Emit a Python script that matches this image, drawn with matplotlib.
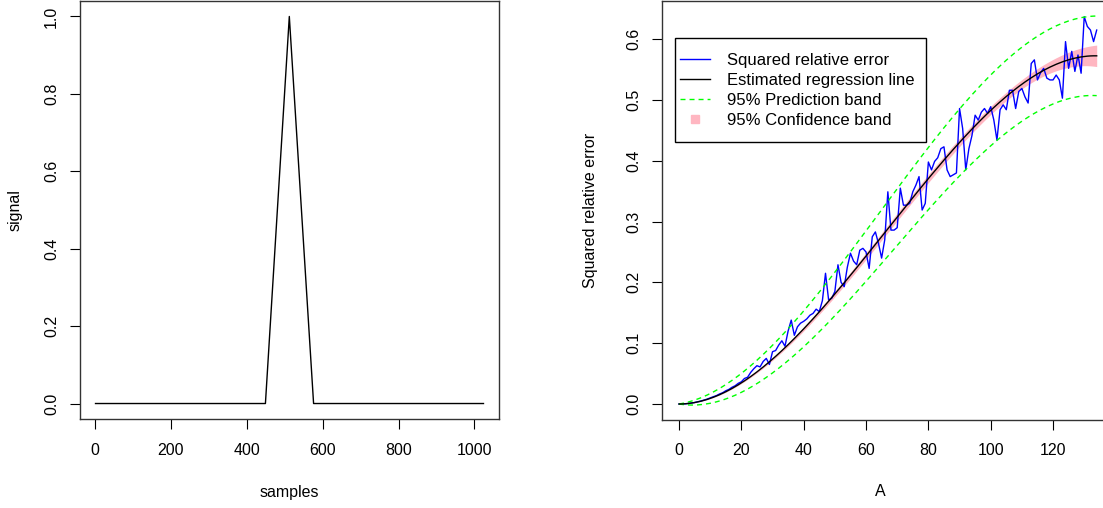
import numpy as np
import matplotlib
matplotlib.use('Agg')
import matplotlib.pyplot as plt
from matplotlib.lines import Line2D
from matplotlib.patches import Rectangle

plt.rcParams['font.family'] = ['Liberation Sans', 'DejaVu Sans']
plt.rcParams['font.size'] = 11.5

# left panel: triangular pulse
samples = [1, 449, 512, 576, 1024]
signal = [0.0, 0.0, 1.0, 0.0, 0.0]

# right panel: squared relative error against A
A = np.arange(0, 135)
sq_err = [
    0.0000, 0.0001, 0.0004, 0.0009, 0.0016, 0.0025, 0.0037, 0.0049, 0.0065, 0.0080,
    0.0100, 0.0120, 0.0138, 0.0165, 0.0185, 0.0218, 0.0240, 0.0275, 0.0300, 0.0340,
    0.0365, 0.0420, 0.0440, 0.0520, 0.0580, 0.0630, 0.0610, 0.0700, 0.0750, 0.0650,
    0.0860, 0.0880, 0.0970, 0.1040, 0.0950, 0.1200, 0.1380, 0.1130, 0.1270, 0.1330,
    0.1360, 0.1400, 0.1460, 0.1490, 0.1560, 0.1520, 0.1700, 0.2150, 0.1710, 0.1740,
    0.1850, 0.2290, 0.2000, 0.1930, 0.2250, 0.2480, 0.2350, 0.2290, 0.2530, 0.2560,
    0.2500, 0.2230, 0.2750, 0.2830, 0.2640, 0.2400, 0.2700, 0.3490, 0.2860, 0.2860,
    0.2900, 0.3550, 0.3270, 0.3270, 0.3300, 0.3490, 0.3600, 0.3740, 0.3190, 0.3300,
    0.3980, 0.3850, 0.3990, 0.4050, 0.4200, 0.4230, 0.3850, 0.3740, 0.3770, 0.3800,
    0.4860, 0.4530, 0.3850, 0.4200, 0.4420, 0.4750, 0.4670, 0.4800, 0.4860, 0.4780,
    0.4890, 0.4670, 0.4340, 0.4840, 0.4920, 0.4840, 0.5160, 0.5160, 0.4860, 0.5140,
    0.5190, 0.5050, 0.4950, 0.5600, 0.5660, 0.5330, 0.5450, 0.5520, 0.5360, 0.5330,
    0.5330, 0.5410, 0.5330, 0.5030, 0.5960, 0.5520, 0.5800, 0.5470, 0.5740, 0.5440,
    0.6370, 0.6210, 0.6150, 0.5960, 0.6150,
]


def r_lim(v):
    # R style axis range: data range plus 4% on each side
    lo, hi = min(v), max(v)
    d = (hi - lo) * 0.04
    return lo - d, hi + d


def fit_bands(x, y):
    # y ~ A^2 + A^3 (through the origin), spread growing like sqrt(fit)
    y = np.asarray(y)
    t = x / x.max()
    X = np.column_stack([t ** 2, t ** 3])
    beta, *_ = np.linalg.lstsq(X, y, rcond=None)
    fit = X @ beta
    g = np.sqrt(np.clip(fit, 0, None))
    k = np.sum(np.abs(y - fit) * g) / np.sum(g ** 2)
    sd = np.sqrt(np.pi / 2) * k * g
    XtX_inv = np.linalg.inv(X.T @ X)
    cov = XtX_inv @ (X.T * sd ** 2) @ X @ XtX_inv
    se = np.sqrt(np.einsum('ij,jk,ik->i', X, cov, X))
    z = 1.96
    pred = z * np.sqrt(sd ** 2 + se ** 2)
    conf = z * se
    return fit, fit - pred, fit + pred, fit - conf, fit + conf


W, H = 1103, 508
fig = plt.figure(figsize=(W / 100, H / 100), dpi=100)
ax1 = fig.add_axes([80 / W, (H - 419) / H, 419 / W, 418 / H])
ax2 = fig.add_axes([662.3 / W, (H - 419.5) / H, 451.1 / W, 418.3 / H])

for ax in (ax1, ax2):
    for s in ax.spines.values():
        s.set_color('#333333')
        s.set_linewidth(1.0)
    ax.tick_params(direction='out', length=7.2, width=0.8, labelsize=11.5)
    ax.tick_params(axis='x', pad=10)
    ax.tick_params(axis='y', pad=8, labelrotation=90)

# left panel
ax1.plot(samples, signal, color='black', lw=1.0)
ax1.set_xlim(*r_lim(samples))
ax1.set_ylim(*r_lim(signal))
ax1.set_xticks([0, 200, 400, 600, 800, 1000])
ax1.set_yticks([0.0, 0.2, 0.4, 0.6, 0.8, 1.0])
ax1.set_yticklabels(['0.0', '0.2', '0.4', '0.6', '0.8', '1.0'])
for lab in ax1.get_yticklabels():
    lab.set_va('center')

# right panel
fit, plo, phi, clo, chi = fit_bands(A, sq_err)
ax2.fill_between(A, clo, chi, color='#FFB6C1', lw=0, zorder=1)
ax2.plot(A, sq_err, color='blue', lw=1.0, zorder=2)
ax2.plot(A, plo, color='#00FF00', lw=1.0, dashes=(3.6, 2.9), zorder=3)
ax2.plot(A, phi, color='#00FF00', lw=1.0, dashes=(3.6, 2.9), zorder=3)
ax2.plot(A, fit, color='black', lw=1.0, zorder=4)
ax2.set_xlim(*r_lim(A))
ax2.set_ylim(*r_lim(sq_err))
ax2.set_xticks([0, 20, 40, 60, 80, 100, 120])
ax2.set_yticks([0.0, 0.1, 0.2, 0.3, 0.4, 0.5, 0.6])
ax2.set_yticklabels(['0.0', '0.1', '0.2', '0.3', '0.4', '0.5', '0.6'])
for lab in ax2.get_yticklabels():
    lab.set_va('center')

# legend box drawn separately so the padding can be uneven, like R's legend()
ax2.add_patch(Rectangle((675 / W, 1 - 142 / H), 251 / W, 104 / H,
                        transform=fig.transFigure, facecolor='white',
                        edgecolor='black', lw=1.0, zorder=4.5, clip_on=False))
handles = [
    Line2D([], [], color='blue', lw=1.0),
    Line2D([], [], color='black', lw=1.0),
    Line2D([], [], color='#00FF00', lw=1.0, dashes=(3.6, 2.9)),
    Line2D([], [], color='#FFB6C1', marker='s', ls='none', markersize=5.5),
]
labels = ['Squared relative error', 'Estimated regression line',
          '95% Prediction band', '95% Confidence band']
leg = ax2.legend(handles, labels, loc='upper left',
                 bbox_to_anchor=(680 / W, 1 - 52.5 / H),
                 bbox_transform=fig.transFigure, borderaxespad=0,
                 frameon=False, fontsize=12, handlelength=1.8,
                 handletextpad=1.0, labelspacing=0.31, borderpad=0)
leg.set_zorder(5)

# axis titles
fig.text(289.5 / W, 1 - 492 / H, 'samples', ha='center', va='center', fontsize=11.5)
fig.text(15 / W, 1 - 210 / H, 'signal', rotation=90, ha='center', va='center', fontsize=11.5)
fig.text(880 / W, 1 - 492 / H, 'A', ha='center', va='center', fontsize=11.5)
fig.text(590 / W, 1 - 210 / H, 'Squared relative error', rotation=90,
         ha='center', va='center', fontsize=11.5)

fig.savefig('out.png', dpi=100)
